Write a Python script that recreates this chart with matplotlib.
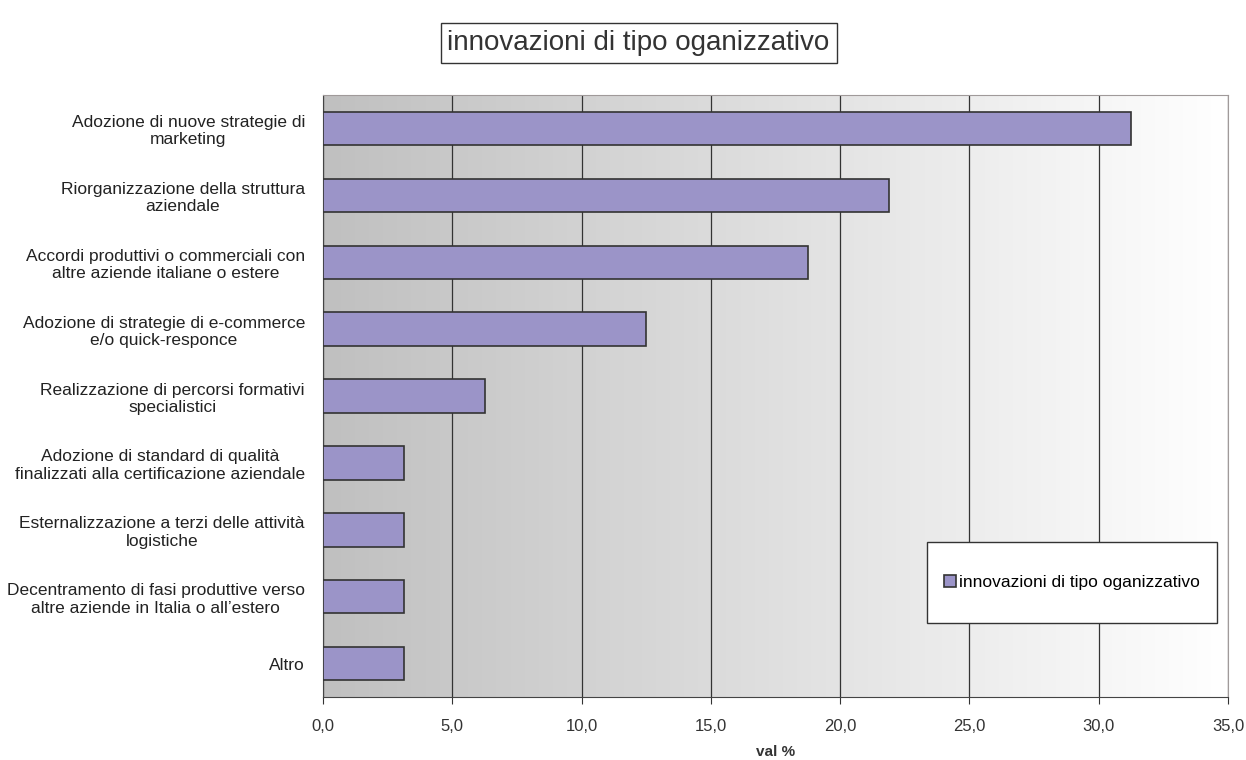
import numpy as np
import matplotlib.pyplot as plt
from matplotlib.colors import LinearSegmentedColormap
from matplotlib.patches import Rectangle

plt.rcParams['font.family'] = ['Liberation Sans', 'DejaVu Sans']

categories = ['Adozione di nuove strategie di\nmarketing',
              'Riorganizzazione della struttura\naziendale',
              'Accordi produttivi o commerciali con\naltre aziende italiane o estere',
              'Adozione di strategie di e-commerce\ne/o quick-responce',
              'Realizzazione di percorsi formativi\nspecialistici',
              'Adozione di standard di qualità\nfinalizzati alla certificazione aziendale',
              'Esternalizzazione a terzi delle attività\nlogistiche',
              'Decentramento di fasi produttive verso\naltre aziende in Italia o all\u2019estero',
              'Altro']
values = [31.25, 21.875, 18.75, 12.5, 6.25, 3.125, 3.125, 3.125, 3.125]
series_name = 'innovazioni di tipo oganizzativo'
xticks = [0, 5, 10, 15, 20, 25, 30, 35]

fig = plt.figure(figsize=(12.46, 7.6), dpi=100)
ax = fig.add_axes([0.2592, 0.0829, 0.7264, 0.792])

# gradient background, grey on the left fading to white
cmap = LinearSegmentedColormap.from_list('bg', ['#c0c0c0', '#ffffff'])
grad = np.linspace(0, 1, 256).reshape(1, -1)
ax.imshow(grad, cmap=cmap, aspect='auto', extent=[0, 35, len(categories) - 0.5, -0.5], zorder=0)

y = np.arange(len(categories))
bars = ax.barh(y, values, height=0.5, color='#9b94c8', edgecolor='#333333', linewidth=1.2,
               label=series_name, zorder=3)

ax.set_xlim(0, 35)
ax.set_ylim(len(categories) - 0.5, -0.5)
ax.set_xticks(xticks)
ax.set_xticklabels([('%.1f' % t).replace('.', ',') for t in xticks], fontsize=12, color='#333333')
ax.set_yticks(y)
ax.set_yticklabels(categories, fontsize=12.5, color='#222222', ha='right')
ax.tick_params(axis='y', length=0, pad=13)
ax.tick_params(axis='x', length=5, color='#333333', pad=11)
for t in ax.get_yticklabels():
    t.set_multialignment('center')
ax.xaxis.grid(True, color='#333333', linewidth=0.9)
for line in ax.get_xgridlines():
    line.set_zorder(1)
for s in ['top', 'right']:
    ax.spines[s].set_color('#a09a9a')
ax.spines['bottom'].set_color('#444444')
ax.spines['left'].set_color('#444444')
ax.set_xlabel('val %', fontsize=11, fontweight='bold', color='#333333', labelpad=8)

fig.text(0.5125, 0.943, series_name, fontsize=20, color='#333333', ha='center', va='center',
         bbox=dict(boxstyle='square,pad=0.25', facecolor='white', edgecolor='#333333', linewidth=1))

# legend box with wider vertical padding than horizontal
fig.patches.append(Rectangle((0.744, 0.1803), 0.2327, 0.1066, transform=fig.transFigure,
                             facecolor='white', edgecolor='#333333', linewidth=1, zorder=5))
leg = fig.legend(handles=[bars], labels=[series_name], loc='center',
                 bbox_to_anchor=(0.8604, 0.2336), fontsize=12.5, frameon=False,
                 handlelength=0.7, handleheight=0.7, handletextpad=0.2, borderpad=0)
leg.set_zorder(6)

fig.savefig('out.png', dpi=100)
